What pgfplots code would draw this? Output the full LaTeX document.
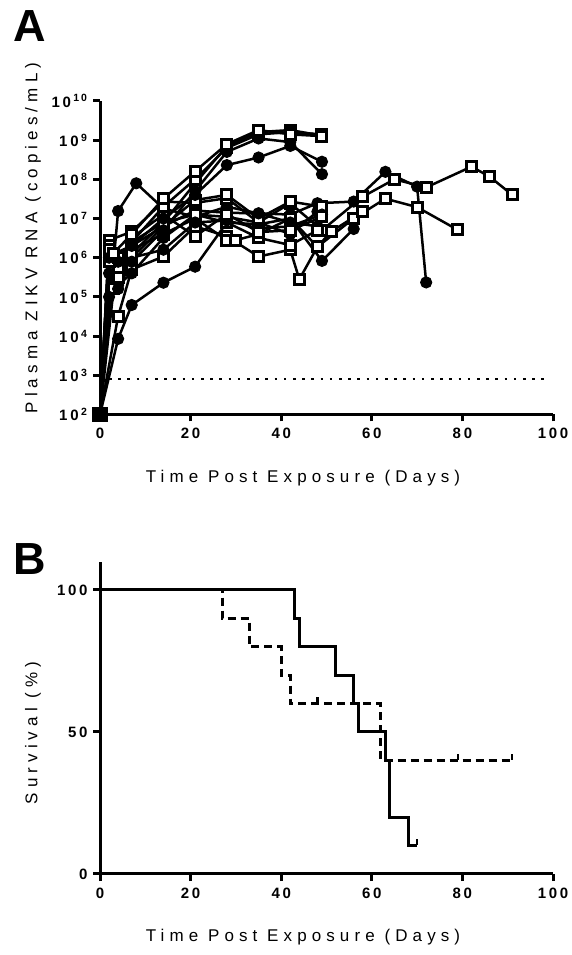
\documentclass[border=0pt]{standalone}
\usepackage{fontspec}
\setmainfont{Liberation Sans}
\newfontfamily\spacedfont[LetterSpace=30]{Liberation Sans}
\newfontfamily\tickfont[LetterSpace=18]{Liberation Sans}
\usepackage{pgfplots}
\pgfplotsset{compat=1.18}
\pgfplotsset{
  gp/.style={scale only axis, axis lines=left,
    axis line style={-, line width=3pt},
    tick align=outside, major tick length=7pt,
    tick style={line width=3pt, black},
    xmin=0, xmax=100, xtick={0,20,40,60,80,100},
    xticklabels={0,20,40,60,80,100},
    clip=false,
    ticklabel style={font=\tickfont\bfseries\fontsize{15}{15}\selectfont},
    xticklabel style={yshift=-3pt},
    yticklabel style={xshift=-2pt},
    every axis plot/.append style={line width=2.5pt, black}},
  ci/.style={mark=*, mark size=5.6pt, mark options={fill=black, line width=1pt, solid}},
  sq/.style={mark=square*, mark size=5pt, mark options={fill=white, line width=3pt, solid}},
}
\begin{document}
\begin{tikzpicture}[x=1pt,y=1pt]
\useasboundingbox (0,0) rectangle (571,955);
% ---------------- Panel A ----------------
\begin{axis}[gp, at={(100pt,540.5pt)}, anchor=south west,
  width=453pt, height=313.6pt,
  ymode=log, ymin=1e2, ymax=1e10, yminorticks=false,
  ytick={1e2,1e3,1e4,1e5,1e6,1e7,1e8,1e9,1e10},
  yticklabels={{10\,\textsuperscript{2}},{10\,\textsuperscript{3}},{10\,\textsuperscript{4}},{10\,\textsuperscript{5}},{10\,\textsuperscript{6}},{10\,\textsuperscript{7}},{10\,\textsuperscript{8}},{10\,\textsuperscript{9}},{10\,\textsuperscript{10}}},
]
\addplot[line width=2.5pt, dash pattern=on 2.5pt off 6.7pt] coordinates {(2,800)(98,800)};
% plateau group
\addplot[ci] coordinates {(0,100)(4,1.55e7)(8,7.9e7)(14,1.8e7)(21,1.1e7)(28,2e7)(35,1.35e7)(42,1.26e7)(48,2.45e7)(56,2.7e7)(63,1.55e8)(70,6.5e7)(72,2.34e5)};
\addplot[sq] coordinates {(0,100)(2,2.8e6)(7,4.6e6)(14,2.7e7)(21,2.5e7)(28,3.3e7)(35,7.9e6)(42,2.45e7)(49,5e6)(58,3.6e7)(65,1e8)(72,6.2e7)(82,2.1e8)(86,1.17e8)(91,4e7)};
\addplot[sq] coordinates {(0,100)(4,3.2e4)(7,5e5)(14,1.07e6)(21,6.3e6)(28,3.5e6)(35,1.07e6)(42,1.6e6)(44,2.8e5)(48,1.9e6)(56,1e7)(63,3.2e7)(70,1.95e7)(79,5.1e6)};
\addplot[ci] coordinates {(0,100)(4,8.5e3)(7,6.2e4)(14,2.3e5)(21,5.9e5)(28,7.9e6)(35,7.1e6)(42,1e7)(49,8.3e5)(56,5.4e6)};
\addplot[sq] coordinates {(0,100)(3,6.3e5)(7,1.6e6)(14,4e6)(21,1e7)(28,2.8e6)(30,2.8e6)(35,4e6)(42,1e7)(48,1.9e6)(51,4.6e6)(58,1.5e7)};
\addplot[ci] coordinates {(0,100)(2,2e6)(4,2e5)(7,4e5)(14,3.2e6)(21,1.26e7)(28,1.1e7)(35,7.9e6)(42,4e6)(48,1.5e7)};
\addplot[sq] coordinates {(0,100)(2,2e6)(7,1e6)(14,6.3e6)(21,2.95e7)(28,4e7)(35,1e7)(42,2.7e7)(49,2e7)};
\addplot[ci] coordinates {(0,100)(3,1.26e6)(7,2e6)(14,6.3e6)(21,1.6e7)(28,1.4e7)(35,1.35e7)(42,7.9e6)(48,6.3e6)};
\addplot[sq] coordinates {(0,100)(3,1.6e5)(7,2.5e6)(14,7.9e6)(21,1.26e7)(28,7.9e6)(35,3.2e6)(42,2.1e6)(48,5e6)(51,4.6e6)};
\addplot[ci] coordinates {(0,100)(2,1e5)(4,4e5)(7,1e6)(14,1.6e6)(21,7.9e6)(28,8.9e6)(35,5.6e6)(42,6.3e6)(49,1.26e7)};
\addplot[sq] coordinates {(0,100)(2,1.2e6)(4,5e5)(7,3.2e6)(14,1.26e7)(21,3.5e6)(28,1.3e7)(35,4.5e6)(42,5e6)(49,1.1e7)};
% high group
\addplot[sq] coordinates {(0,100)(2,7.9e5)(4,3.2e5)(7,1.26e6)(14,7.9e6)(21,7.9e7)(28,7.1e8)(35,1.6e9)(42,1.8e9)(49,1.3e9)};
\addplot[sq] coordinates {(0,100)(2,1.6e6)(4,1e6)(7,2.5e6)(14,2e7)(21,1e8)(28,6.3e8)(35,1.4e9)(42,1.6e9)(49,1.4e9)};
\addplot[ci] coordinates {(0,100)(2,4e5)(4,7.9e5)(7,2e6)(14,1e7)(21,4e7)(28,2.3e8)(35,3.6e8)(42,7.1e8)(49,2.8e8)};
\addplot[ci] coordinates {(0,100)(2,1e6)(4,1.6e5)(7,7.9e5)(14,5e6)(21,5e7)(28,5e8)(35,1.1e9)(42,8.9e8)(49,1.35e8)};
\addplot[sq] coordinates {(0,100)(3,1.3e6)(7,4e6)(14,3.2e7)(21,1.6e8)(28,7.9e8)(35,1.8e9)(42,1.4e9)(49,1.26e9)};
\addplot[only marks, mark=square*, mark size=6.5pt, mark options={fill=black}] coordinates {(0,100)};
\end{axis}
% ---------------- Panel B ----------------
\begin{axis}[gp, at={(100pt,81pt)}, anchor=south west,
  width=453pt, height=312.4pt,
  ymin=0, ymax=110, ytick={0,50,100}, yticklabels={0,50,100},
]
\addplot[const plot, line width=3pt] coordinates {(0,100)(43,90)(44,80)(52,70)(56,60)(57,50)(63,40)(64,20)(68,10)(70,10)};
\addplot[const plot, line width=3pt, dash pattern=on 8pt off 5pt] coordinates {(0,100)(27,90)(33,80)(40,70)(42,60)(62,40)(91,40)};
\addplot[only marks, mark=|, mark size=3pt, mark options={line width=2.5pt}] coordinates {(48,61.1)(79,41.1)(91,41.1)(70,11.1)};
\end{axis}
% ---------------- labels ----------------
\node[anchor=base west, inner sep=0, font=\bfseries\fontsize{45}{45}\selectfont] at (13,913) {A};
\node[anchor=base west, inner sep=0, font=\bfseries\fontsize{45}{45}\selectfont] at (13,380) {B};
\node[rotate=90, font=\spacedfont\fontsize{17}{17}\selectfont] at (33,717) {Plasma ZIKV RNA (copies/mL)};
\node[font=\spacedfont\fontsize{17}{17}\selectfont] at (303,477) {Time Post Exposure (Days)};
\node[rotate=90, font=\spacedfont\fontsize{17}{17}\selectfont] at (33,222) {Survival (\%)};
\node[font=\spacedfont\fontsize{17}{17}\selectfont] at (303,18) {Time Post Exposure (Days)};
\end{tikzpicture}
\end{document}
